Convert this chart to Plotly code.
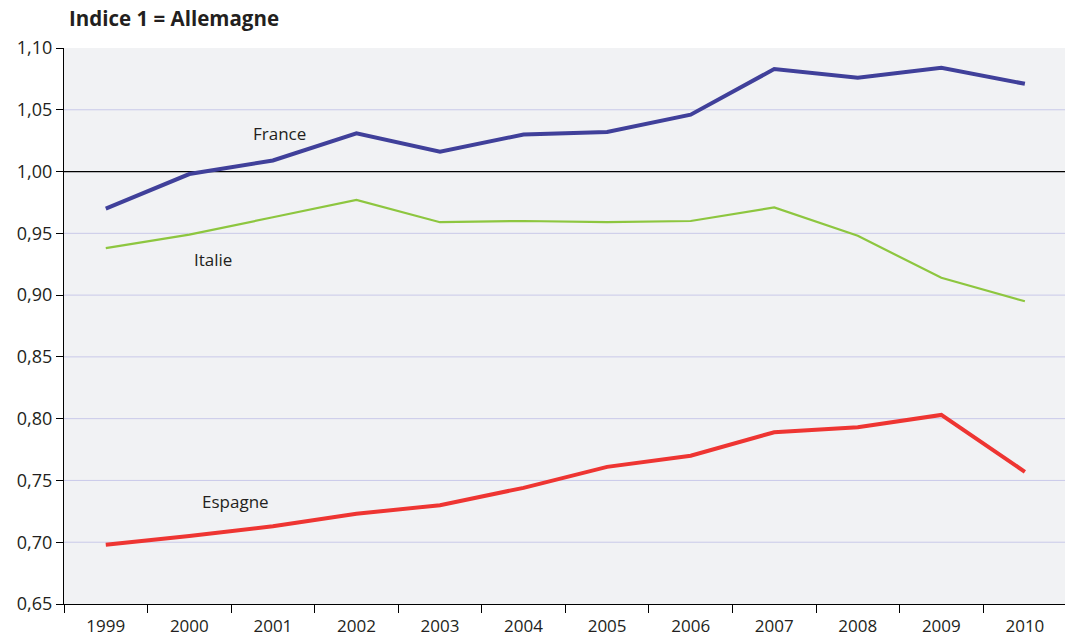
import plotly.graph_objects as go

# Données (indice, Allemagne = 1)
annees = ['1999', '2000', '2001', '2002', '2003', '2004',
          '2005', '2006', '2007', '2008', '2009', '2010']
france = [0.970, 0.998, 1.009, 1.031, 1.016, 1.030,
          1.032, 1.046, 1.083, 1.076, 1.084, 1.071]
italie = [0.938, 0.949, 0.963, 0.977, 0.959, 0.960,
          0.959, 0.960, 0.971, 0.948, 0.914, 0.895]
espagne = [0.698, 0.705, 0.713, 0.723, 0.730, 0.744,
           0.761, 0.770, 0.789, 0.793, 0.803, 0.757]
y_ticks = [0.65, 0.70, 0.75, 0.80, 0.85, 0.90, 0.95, 1.00, 1.05, 1.10]
reference = 1.0

FONT = 'Open Sans'
TXT = '#231F20'

fig = go.Figure()

fig.add_trace(go.Scatter(x=annees, y=italie, mode='lines', name='Italie',
                         line=dict(color='#8DC63F', width=2.2)))
fig.add_trace(go.Scatter(x=annees, y=espagne, mode='lines', name='Espagne',
                         line=dict(color='#EE3532', width=4)))
fig.add_trace(go.Scatter(x=annees, y=france, mode='lines', name='France',
                         line=dict(color='#40409A', width=4)))

# quadrillage horizontal (sans les bords), puis ligne de référence Allemagne = 1
for v in y_ticks[1:-1]:
    if v != reference:
        fig.add_hline(y=v, line_color='#C9C9E9', line_width=1, layer='below')
fig.add_hline(y=reference, line_color='black', line_width=1.3, layer='below')

# étiquettes des séries
for txt, xi, yi in [('France', 2.08, 1.0305), ('Italie', 1.28, 0.929),
                    ('Espagne', 1.55, 0.733)]:
    fig.add_annotation(x=xi, y=yi, text=txt, showarrow=False,
                       font=dict(family=FONT, size=17, color=TXT))

fig.update_layout(
    width=1065, height=640,
    margin=dict(l=64, r=0, t=48, b=36),
    paper_bgcolor='white',
    plot_bgcolor='#F1F2F4',
    showlegend=False,
    title=dict(text='<b>Indice 1 = Allemagne</b>', x=69 / 1065, xanchor='left',
               y=1 - 19 / 640, yanchor='middle', automargin=False,
               font=dict(family=FONT, size=20.5, color=TXT)),
    font=dict(family=FONT, size=17, color=TXT),
    separators=', ',
)

fig.update_xaxes(type='category', range=[-0.5, 11.48], tickson='boundaries',
                 ticks='outside', ticklen=8, tickcolor='black',
                 showline=True, linecolor='black', linewidth=1.3,
                 showgrid=False, automargin=False, ticklabelstandoff=6,
                 tickfont=dict(size=17, color=TXT))
fig.update_yaxes(range=[0.65, 1.10], tickvals=y_ticks, tickformat='.2f',
                 ticks='outside', ticklen=7, tickcolor='black',
                 showline=True, linecolor='black', linewidth=1.3,
                 showgrid=False, zeroline=False, automargin=False,
                 tickfont=dict(size=18, color=TXT))

fig.write_html('out.html', config={'displayModeBar': False},
               post_script="document.body.style.margin='0';")
